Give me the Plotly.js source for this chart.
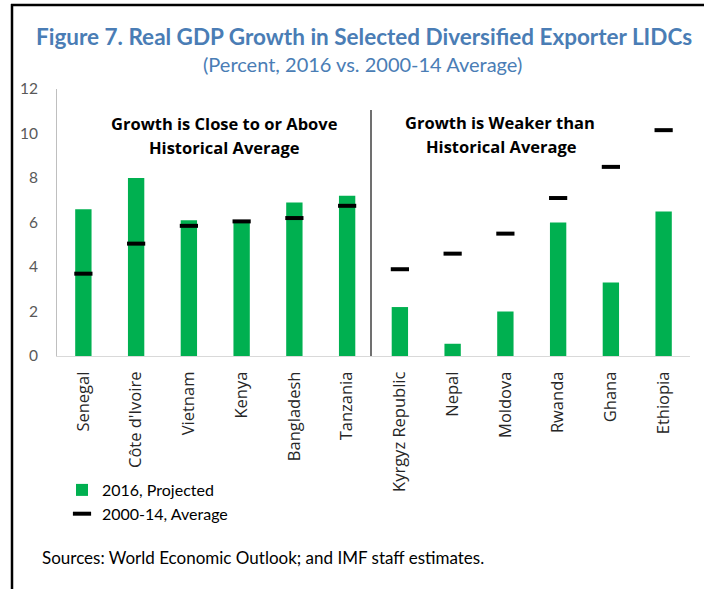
<!DOCTYPE html>
<html>
<head>
<meta charset="utf-8">
<script src="https://cdn.plot.ly/plotly-3.0.1.min.js"></script>
<style>html,body{margin:0;padding:0;background:#fff;}#chart{width:704px;height:589px;}</style>
</head>
<body>
<div id="chart"></div>
<script>
const countries = ["Senegal", "Côte d'Ivoire", "Vietnam", "Kenya", "Bangladesh", "Tanzania",
  "Kyrgyz Republic", "Nepal", "Moldova", "Rwanda", "Ghana", "Ethiopia"];
const projected2016 = [6.6, 8.0, 6.1, 6.0, 6.9, 7.2, 2.2, 0.55, 2.0, 6.0, 3.3, 6.5];
const average2000_14 = [3.7, 5.05, 5.85, 6.05, 6.2, 6.75, 3.9, 4.6, 5.5, 7.1, 8.5, 10.15];
const yTicks = [0, 2, 4, 6, 8, 10, 12];

const W = 704, H = 589;
const M = {l: 57, r: 14, t: 89, b: 233};
const pw = W - M.l - M.r, ph = H - M.t - M.b;
const px = x => (x - M.l) / pw;
const py = y => (H - M.b - y) / ph;

const blue = '#4a7db5';
const calib = 'Lato, "Open Sans", sans-serif';
const segoe = '"Open Sans", "Noto Sans", sans-serif';

const traces = [
  {
    type: 'bar', name: '2016, Projected', x: countries, y: projected2016,
    width: 0.31, marker: {color: '#00b050'}, hoverinfo: 'skip'
  },
  {
    type: 'scatter', mode: 'markers', name: '2000-14, Average', x: countries, y: average2000_14,
    marker: {symbol: 'line-ew', size: 13, color: '#000', line: {color: '#000', width: 4}},
    hoverinfo: 'skip'
  }
];

function ann(text, x, y, size, opts) {
  return Object.assign({
    text: text, xref: 'paper', yref: 'paper', x: px(x), y: py(y),
    xanchor: 'center', yanchor: 'middle', showarrow: false,
    font: {family: calib, size: size, color: '#000'}
  }, opts || {});
}

const annFont = {family: segoe, size: 16.5, color: '#000'};

const layout = {
  width: W, height: H,
  margin: M,
  paper_bgcolor: '#fff', plot_bgcolor: '#fff',
  showlegend: true,
  legend: {
    x: px(62), y: py(473), xanchor: 'left', yanchor: 'top',
    font: {family: calib, size: 16, color: '#000'},
    bgcolor: 'rgba(0,0,0,0)', tracegroupgap: 0, itemwidth: 30
  },
  xaxis: {
    type: 'category', range: [-0.5, 11.5], showgrid: false, zeroline: false,
    showline: true, linecolor: '#d9d9d9', linewidth: 1, ticks: '',
    tickangle: -90, ticklabelstandoff: 8,
    tickfont: {family: segoe, size: 16.5, color: '#262626'}
  },
  yaxis: {
    range: [0, 12], tickvals: yTicks, ticktext: yTicks.map(String),
    showgrid: false, zeroline: false, showline: true, linecolor: '#bfbfbf', linewidth: 1,
    ticks: '', ticklabelstandoff: 15,
    tickfont: {family: calib, size: 15.5, color: '#595959'}
  },
  annotations: [
    ann('<b>Figure 7. Real GDP Growth in Selected Diversified Exporter LIDCs</b>', 364, 37, 22.5,
      {font: {family: calib, size: 22.5, color: blue}}),
    ann('(Percent, 2016 vs. 2000-14 Average)', 362, 64, 20,
      {font: {family: calib, size: 20, color: blue}}),
    ann('<b>Growth is Close to or Above</b>', 224, 123, 16.5, {font: annFont}),
    ann('<b>Historical Average</b>', 224, 147, 16.5, {font: annFont}),
    ann('<b>Growth is Weaker than</b>', 500, 122, 16.5, {font: annFont}),
    ann('<b>Historical Average</b>', 501, 146, 16.5, {font: annFont}),
    ann('Sources: World Economic Outlook; and IMF staff estimates.', 40, 557, 17,
      {xanchor: 'left', font: {family: calib, size: 17, color: '#000'}})
  ],
  shapes: [
    {type: 'line', xref: 'paper', yref: 'paper', x0: px(371), x1: px(371), y0: py(356), y1: py(110),
      line: {color: '#404040', width: 1.5}},
    {type: 'line', xref: 'paper', yref: 'paper', x0: px(12), x1: px(12), y0: py(4), y1: py(600),
      line: {color: '#000', width: 2.5}},
    {type: 'line', xref: 'paper', yref: 'paper', x0: px(11), x1: px(710), y0: py(5), y1: py(5),
      line: {color: '#000', width: 2.5}}
  ]
};

Plotly.newPlot('chart', traces, layout, {staticPlot: true, displayModeBar: false});
</script>
</body>
</html>
